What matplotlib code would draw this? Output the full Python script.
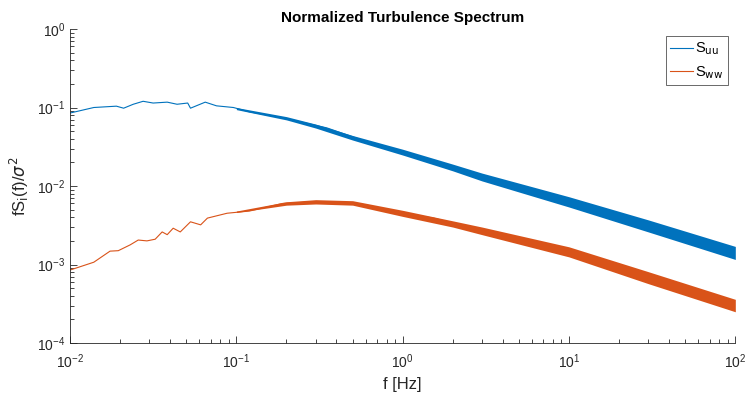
import matplotlib
matplotlib.use("Agg")

import matplotlib.pyplot as plt

# frequencies [Hz] and normalized spectra
f_uu = [0.01, 0.0139, 0.019, 0.021, 0.024, 0.0275, 0.0316, 0.0384, 0.044, 0.051,
        0.053, 0.065, 0.076, 0.096, 0.12, 0.19, 0.35, 0.56, 1.0, 1.94, 3.8,
        10, 20, 39, 100]
s_uu = [0.085, 0.1, 0.104, 0.098, 0.11, 0.12, 0.114, 0.117, 0.11, 0.114,
        0.098, 0.117, 0.105, 0.1, 0.088, 0.074, 0.055, 0.039, 0.027, 0.0175, 0.0112,
        0.0063, 0.0040, 0.0026, 0.0014]

f_ww = [0.01, 0.0139, 0.0174, 0.0195, 0.023, 0.0257, 0.029, 0.0325, 0.0358, 0.0384,
        0.0417, 0.046, 0.053, 0.061, 0.067, 0.088, 0.12, 0.19, 0.3, 0.4, 0.56,
        0.84, 1.0, 1.54, 2.46, 3.8, 10, 19.7, 39, 100]
s_ww = [0.00085, 0.00107, 0.00148, 0.0015, 0.00178, 0.00205, 0.002, 0.0021, 0.0026, 0.0024,
        0.0029, 0.0026, 0.0035, 0.0032, 0.0039, 0.0045, 0.0048, 0.006, 0.0063, 0.0063, 0.0059,
        0.0049, 0.0045, 0.0039, 0.003, 0.0025, 0.00145, 0.00085, 0.00055, 0.0003]

# spread of the noisy part (upper / lower edge of the band)
f_band = [0.1, 0.2, 0.3, 0.5, 1, 2, 3, 10, 30, 100]
suu_hi = [0.100, 0.0765, 0.0615, 0.0440, 0.0294, 0.0190, 0.0146, 0.0073, 0.0037, 0.0017]
suu_lo = [0.094, 0.0695, 0.0547, 0.0385, 0.0248, 0.0156, 0.0116, 0.0054, 0.0026, 0.00116]
sww_hi = [0.0048, 0.0063, 0.0067, 0.0065, 0.0049, 0.0036, 0.0030, 0.00168, 0.00081, 0.00036]
sww_lo = [0.0046, 0.0057, 0.0059, 0.0057, 0.0041, 0.0030, 0.0024, 0.00125, 0.00057, 0.00025]

blue = "#0072BD"
red = "#D95319"
dark = "#262626"

plt.rcParams["font.family"] = ["Liberation Sans", "DejaVu Sans"]

fig = plt.figure(figsize=(7.45, 3.94), dpi=100)
ax = fig.add_axes([0.094, 0.1294, 0.893, 0.7970])

ax.fill_between(f_band, suu_lo, suu_hi, color=blue, lw=0)
ax.fill_between(f_band, sww_lo, sww_hi, color=red, lw=0)
ax.plot(f_uu, s_uu, color=blue, lw=0.8, label="S$_{\\rm uu}$")
ax.plot(f_ww, s_ww, color=red, lw=0.8, label="S$_{\\rm ww}$")

ax.set_xscale("log")
ax.set_yscale("log")
ax.set_xlim(1e-2, 1e2)
ax.set_ylim(1e-4, 1e0)

for side in ["top", "right"]:
    ax.spines[side].set_visible(False)
for side in ["left", "bottom"]:
    ax.spines[side].set_color(dark)
    ax.spines[side].set_linewidth(0.6)

ax.tick_params(which="both", direction="in", colors=dark, labelsize=10, width=0.6)
ax.tick_params(which="major", length=5)
ax.tick_params(which="minor", length=3)
ax.tick_params(axis="x", pad=7)

ax.set_title("Normalized Turbulence Spectrum", fontsize=11, fontweight="bold", pad=5)
ax.set_xlabel("f [Hz]", fontsize=12, color=dark, labelpad=4)
ax.set_ylabel("fS$_{\\rm i}$(f)/$\\sigma^2$", fontsize=12, color=dark, labelpad=4)

leg = ax.legend(loc="upper right", fontsize=10.5, frameon=True, fancybox=False,
                handlelength=1.6, handletextpad=0.15, borderpad=0.3,
                labelspacing=0.45, borderaxespad=0.5)
leg.get_frame().set_edgecolor(dark)
leg.get_frame().set_linewidth(0.6)

fig.savefig("out.png", dpi=100)
